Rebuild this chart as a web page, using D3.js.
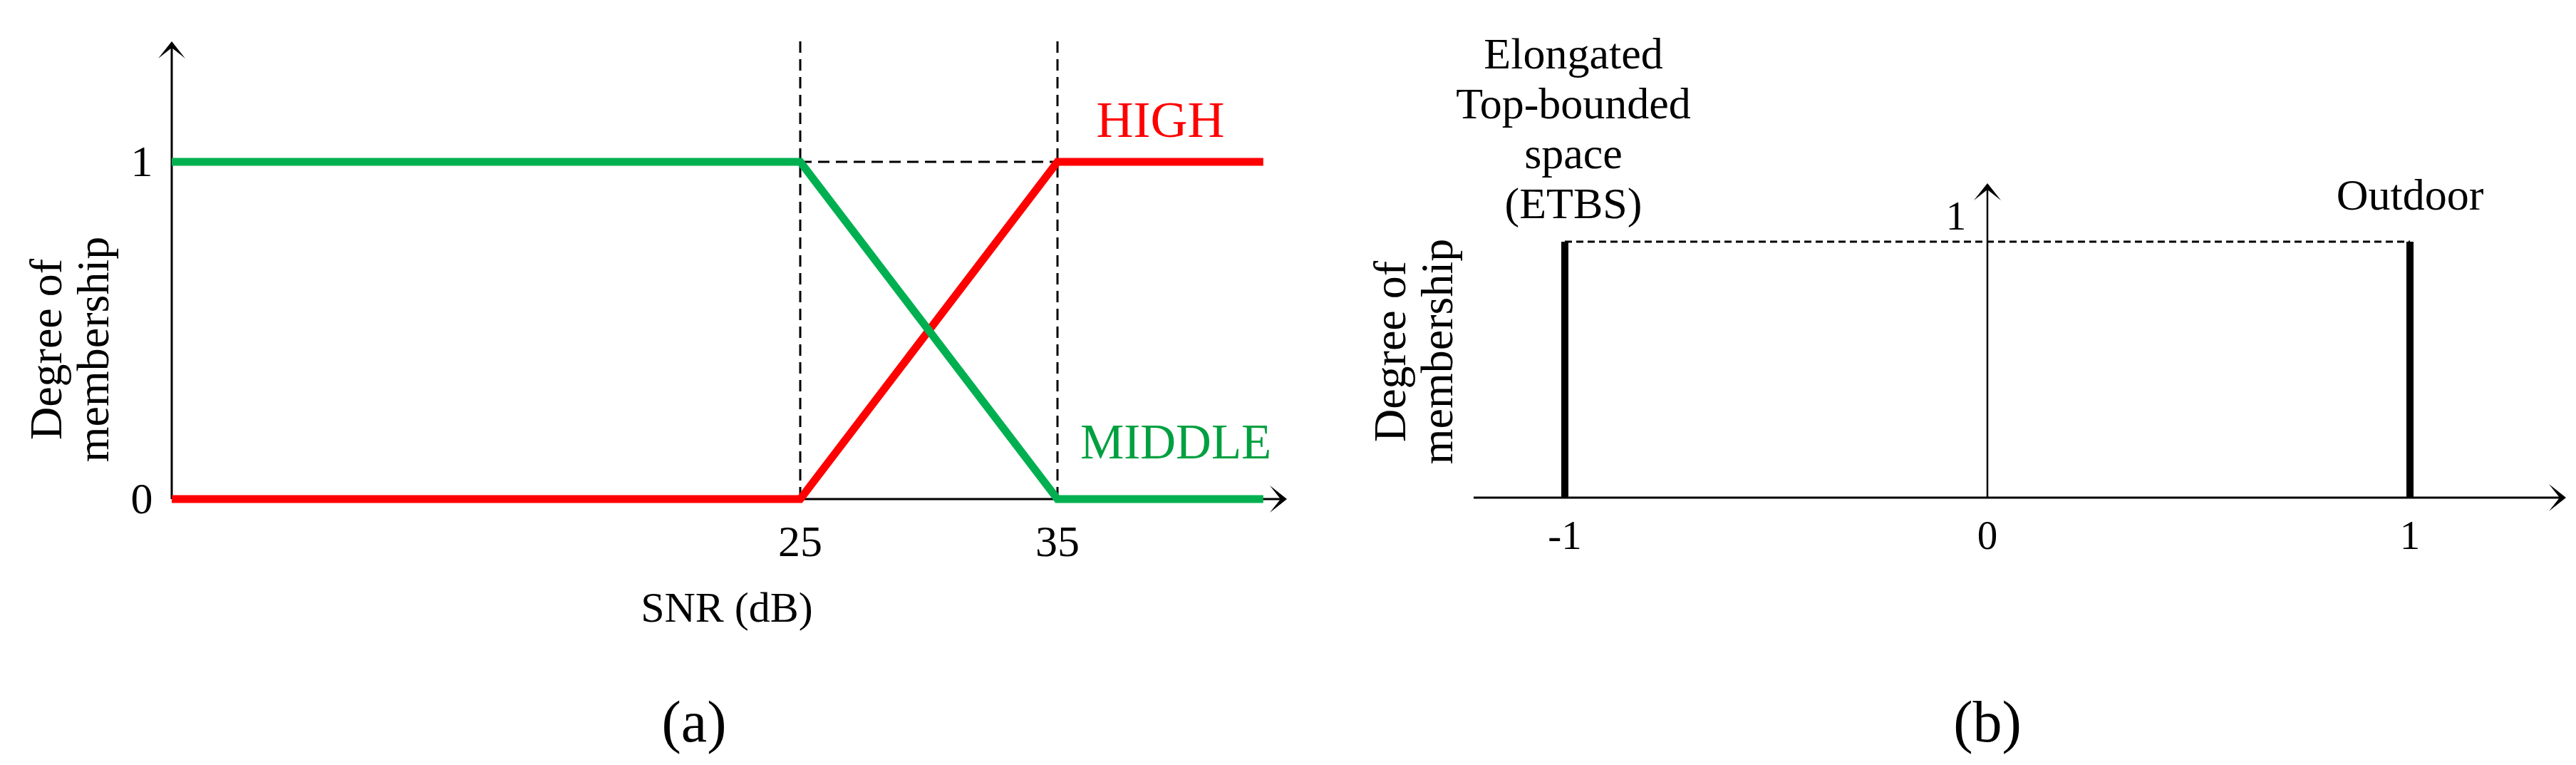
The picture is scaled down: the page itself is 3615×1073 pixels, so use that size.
<!DOCTYPE html>
<html lang="en">
  <head>
    <meta charset="UTF-8" />
    <title>Degree of membership</title>
    <script src="https://cdn.jsdelivr.net/npm/d3@7"></script>
    <style>
      body { margin: 0; background: #fff; }
      text { font-family: "Liberation Serif", "Times New Roman", serif; fill: #000; }
    </style>
  </head>
  <body>
    <script>
      // (a) SNR membership functions
      const snrPoints = [0, 25, 35, 43];
      const middleValues = [1, 1, 0, 0];
      const highValues = [0, 0, 1, 1];
      const snrTicks = [25, 35];
      const memberTicks = [0, 1];

      // (b) environment classes (singletons)
      const envTicks = [-1, 0, 1];
      const envValues = [-1, 1];
      const envMembership = [1, 1];
      const etbsLines = ["Elongated", "Top-bounded", "space", "(ETBS)"];

      const width = 3615;
      const height = 1073;

      const svg = d3
        .select("body")
        .append("svg")
        .attr("width", width)
        .attr("height", height);

      // arrow head, tip at (x, y), pointing up or right
      function arrowHead(x, y, dir) {
        const rot = dir === "up" ? 0 : 90;
        svg
          .append("path")
          .attr("d", "M0,0 L-19,24 L0,9 L19,24 Z")
          .attr("transform", `translate(${x},${y}) rotate(${rot})`)
          .attr("fill", "#000");
      }

      function yTitle(cx, cy) {
        ["Degree of", "membership"].forEach((t, i) => {
          svg
            .append("text")
            .attr("transform", `translate(${cx + i * 66},${cy}) rotate(-90)`)
            .attr("text-anchor", "middle")
            .attr("font-size", 64)
            .text(t);
        });
      }

      // ---------- (a) ----------
      const xA = d3.scaleLinear().domain([0, 25, 35]).range([241, 1123, 1484]);
      const yA = d3.scaleLinear().domain([0, 1]).range([700, 227]);

      // axes
      svg.append("line")
        .attr("x1", xA(0)).attr("x2", xA(0))
        .attr("y1", yA(0)).attr("y2", 62)
        .attr("stroke", "#000").attr("stroke-width", 3);
      arrowHead(xA(0), 58, "up");
      svg.append("line")
        .attr("x1", xA(0)).attr("x2", 1802)
        .attr("y1", yA(0)).attr("y2", yA(0))
        .attr("stroke", "#000").attr("stroke-width", 3);
      arrowHead(1806, yA(0), "right");

      // dashed guides
      snrTicks.forEach((t) => {
        svg.append("line")
          .attr("x1", xA(t)).attr("x2", xA(t))
          .attr("y1", 58).attr("y2", yA(0))
          .attr("stroke", "#000").attr("stroke-width", 3)
          .attr("stroke-dasharray", "16,9");
      });
      svg.append("line")
        .attr("x1", xA(25)).attr("x2", xA(35))
        .attr("y1", yA(1)).attr("y2", yA(1))
        .attr("stroke", "#000").attr("stroke-width", 3)
        .attr("stroke-dasharray", "16,9");

      const lineA = d3
        .line()
        .x((d) => xA(d[0]))
        .y((d) => yA(d[1]));

      svg.append("path")
        .datum(d3.zip(snrPoints, highValues))
        .attr("fill", "none")
        .attr("stroke", "#ff0000")
        .attr("stroke-width", 11)
        .attr("stroke-linejoin", "miter")
        .attr("d", lineA);
      svg.append("path")
        .datum(d3.zip(snrPoints, middleValues))
        .attr("fill", "none")
        .attr("stroke", "#00b050")
        .attr("stroke-width", 11)
        .attr("stroke-linejoin", "miter")
        .attr("d", lineA);

      // tick labels
      svg.selectAll(".xa")
        .data(snrTicks)
        .enter()
        .append("text")
        .attr("x", (d) => xA(d))
        .attr("y", 780)
        .attr("text-anchor", "middle")
        .attr("font-size", 62)
        .text((d) => d);
      svg.selectAll(".ya")
        .data(memberTicks)
        .enter()
        .append("text")
        .attr("x", xA(0) - 42)
        .attr("y", (d) => yA(d) + 20)
        .attr("text-anchor", "middle")
        .attr("font-size", 62)
        .text((d) => d);

      svg.append("text")
        .attr("x", xA(39))
        .attr("y", yA(1) - 35)
        .attr("text-anchor", "middle")
        .attr("font-size", 72)
        .style("fill", "#ff0000")
        .text("HIGH");
      svg.append("text")
        .attr("x", xA(39.6))
        .attr("y", yA(0) - 57)
        .attr("text-anchor", "middle")
        .attr("font-size", 69)
        .style("fill", "#00a040")
        .text("MIDDLE");

      svg.append("text")
        .attr("x", 1020)
        .attr("y", 872)
        .attr("text-anchor", "middle")
        .attr("font-size", 60)
        .text("SNR (dB)");

      yTitle(86, 490);

      svg.append("text")
        .attr("x", 974)
        .attr("y", 1040)
        .attr("text-anchor", "middle")
        .attr("font-size", 82)
        .text("(a)");

      // ---------- (b) ----------
      const xB = d3.scaleLinear().domain([-1, 1]).range([2196, 3382]);
      const yB = d3.scaleLinear().domain([0, 1]).range([698, 339]);

      svg.append("line")
        .attr("x1", 2068).attr("x2", 3597)
        .attr("y1", yB(0)).attr("y2", yB(0))
        .attr("stroke", "#000").attr("stroke-width", 3);
      arrowHead(3601, yB(0), "right");
      svg.append("line")
        .attr("x1", xB(0)).attr("x2", xB(0))
        .attr("y1", yB(0)).attr("y2", 262)
        .attr("stroke", "#000").attr("stroke-width", 2.5);
      arrowHead(xB(0), 257, "up");

      svg.append("line")
        .attr("x1", xB(-1)).attr("x2", xB(1))
        .attr("y1", yB(1)).attr("y2", yB(1))
        .attr("stroke", "#000").attr("stroke-width", 3)
        .attr("stroke-dasharray", "10,6");

      svg.selectAll(".bar")
        .data(d3.zip(envValues, envMembership))
        .enter()
        .append("line")
        .attr("x1", (d) => xB(d[0]))
        .attr("x2", (d) => xB(d[0]))
        .attr("y1", yB(0))
        .attr("y2", (d) => yB(d[1]))
        .attr("stroke", "#000")
        .attr("stroke-width", 10);

      svg.selectAll(".xb")
        .data(envTicks)
        .enter()
        .append("text")
        .attr("x", (d) => xB(d))
        .attr("y", 770)
        .attr("text-anchor", "middle")
        .attr("font-size", 57)
        .text((d) => d);

      svg.append("text")
        .attr("x", xB(0) - 44)
        .attr("y", yB(1) - 17)
        .attr("text-anchor", "middle")
        .attr("font-size", 57)
        .text("1");

      etbsLines.forEach((t, i) => {
        svg.append("text")
          .attr("x", xB(-1) + 12)
          .attr("y", 96 + i * 70)
          .attr("text-anchor", "middle")
          .attr("font-size", 62)
          .text(t);
      });
      svg.append("text")
        .attr("x", xB(1))
        .attr("y", 294)
        .attr("text-anchor", "middle")
        .attr("font-size", 62)
        .text("Outdoor");

      yTitle(1972, 493);

      svg.append("text")
        .attr("x", xB(0))
        .attr("y", 1040)
        .attr("text-anchor", "middle")
        .attr("font-size", 82)
        .text("(b)");
    </script>
  </body>
</html>
